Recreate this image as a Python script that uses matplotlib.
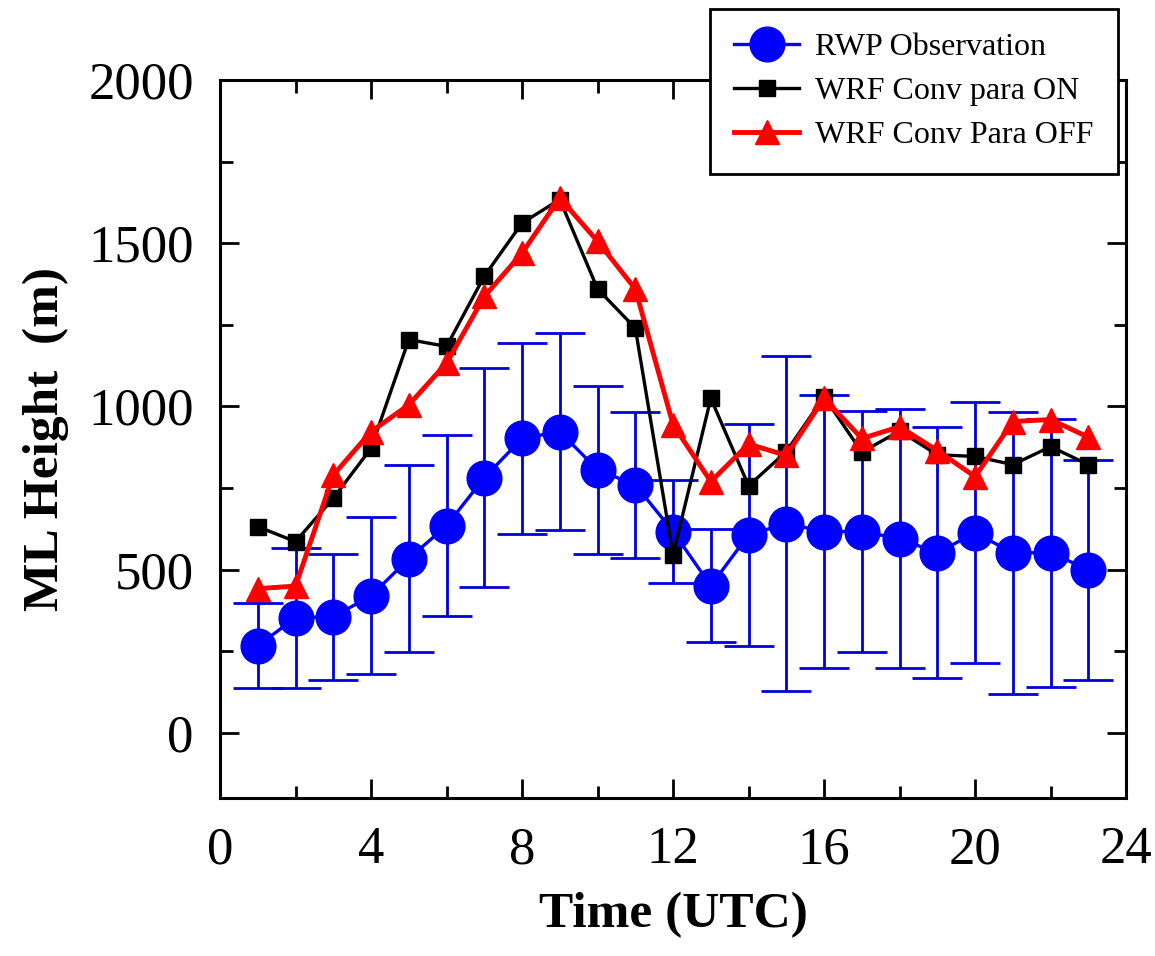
import numpy as np
import matplotlib
matplotlib.use('Agg')
import matplotlib.pyplot as plt
from matplotlib.ticker import MultipleLocator

plt.rcParams['font.family'] = ['Liberation Serif', 'DejaVu Serif']

# hourly values (UTC)
hours = np.arange(1, 24)
rwp_obs = [267, 353, 356, 420, 534, 635, 782, 902, 923, 806, 760, 617,
           451, 607, 641, 617, 617, 595, 552, 613, 552, 552, 500]
rwp_err = [130, 215, 193, 240, 287, 278, 336, 293, 302, 257, 223, 157,
           173, 340, 513, 418, 370, 397, 385, 400, 432, 410, 337]
conv_on = [632, 586, 719, 872, 1205, 1184, 1399, 1562, 1634, 1360, 1240, 546,
           1025, 757, 862, 1030, 860, 925, 852, 847, 822, 877, 822]
conv_off = [442, 450, 790, 923, 1005, 1133, 1337, 1470, 1639, 1506, 1360, 944,
            770, 885, 850, 1025, 902, 938, 865, 785, 954, 960, 906]

fig = plt.figure(figsize=(11.55, 9.56), dpi=100)
ax = fig.add_axes([0.1905, 0.165, 0.7845, 0.7513])

# observation with std error bars
ax.errorbar(hours, rwp_obs, yerr=rwp_err, fmt='none', ecolor='#0000dd',
            elinewidth=2, capsize=18, capthick=2, zorder=2)
ax.plot(hours, rwp_obs, color='#0000ff', lw=2.4, marker='o', ms=25,
        label='RWP Observation', zorder=3)
ax.plot(hours, conv_on, color='black', lw=2.4, marker='s', ms=11,
        label='WRF Conv para ON', zorder=4)
ax.plot(hours, conv_off, color='#ff0000', lw=3.5, marker='^', ms=17,
        label='WRF Conv Para OFF', zorder=5)

ax.set_xlim(0, 24)
ax.set_ylim(-200, 2000)
ax.xaxis.set_major_locator(MultipleLocator(4))
ax.xaxis.set_minor_locator(MultipleLocator(2))
ax.yaxis.set_major_locator(MultipleLocator(500))
ax.yaxis.set_minor_locator(MultipleLocator(250))
ax.tick_params(which='both', direction='in', top=True, right=True, width=2)
ax.tick_params(which='major', length=14, labelsize=38)
ax.tick_params(which='minor', length=9)
ax.tick_params(axis='x', pad=20)
ax.tick_params(axis='y', pad=19)
for s in ax.spines.values():
    s.set_linewidth(2.2)

ax.set_xlabel('Time (UTC)', fontsize=37, fontweight='bold', labelpad=13)
ax.set_ylabel('ML Height  (m)', fontsize=37, fontweight='bold', labelpad=14)

leg = ax.legend(loc='upper left', bbox_to_anchor=(0.6147, 0.9906),
                bbox_transform=fig.transFigure, fontsize=23, frameon=True,
                fancybox=False, edgecolor='black', framealpha=1,
                handlelength=2.05, handletextpad=0.5,
                labelspacing=0.45, borderpad=0.75, borderaxespad=0)
leg.get_frame().set_linewidth(2)
leg.set_zorder(10)

fig.savefig('out.png', dpi=100)
